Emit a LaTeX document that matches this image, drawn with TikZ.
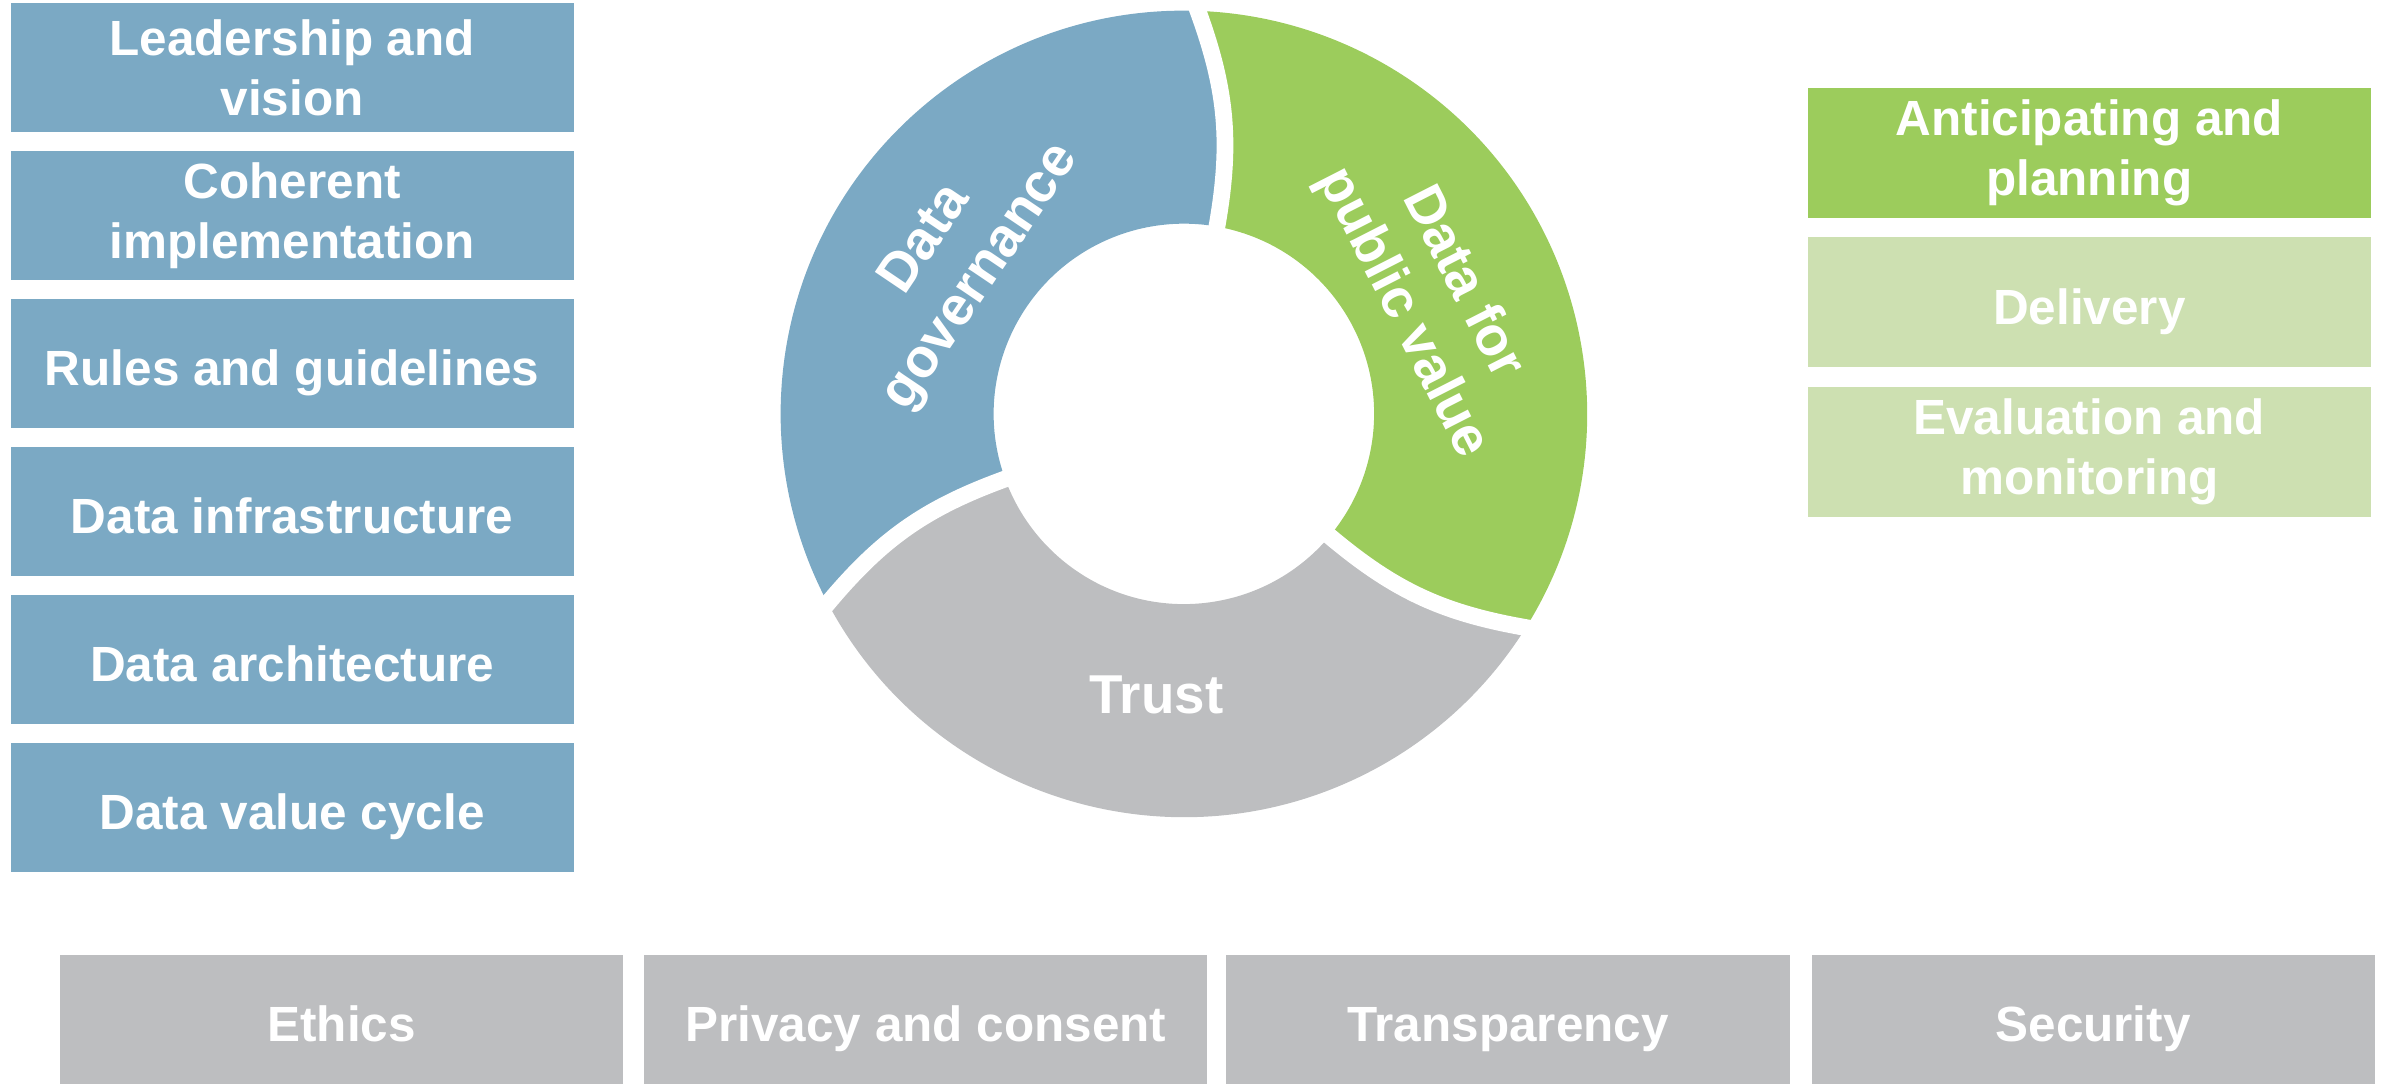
\documentclass[tikz,border=0pt]{standalone}
\usepackage{fontspec}
\setmainfont{Liberation Sans}
\usepackage{tikz}

\definecolor{govblue}{RGB}{123,169,196}
\definecolor{valgreen}{RGB}{156,204,92}
\definecolor{vallight}{RGB}{205,224,177}
\definecolor{trustgrey}{RGB}{189,190,192}

\begin{document}
\begin{tikzpicture}[x=1pt, y=1pt,
    pillar/.style={rectangle, minimum width=370pt, minimum height=85pt, inner sep=0pt,
        align=center, text=white, font=\bfseries\fontsize{32.5}{39}\selectfont},
    oneline/.style={execute at begin node={\rule{0pt}{36.3pt}},
        execute at end node={\rule[-7pt]{0pt}{0pt}}},
    govbox/.style={pillar, fill=govblue},
    valbox/.style={pillar, fill=vallight},
    trustbox/.style={pillar, oneline, fill=trustgrey},
    ringtext/.style={align=center, text=white, font=\bfseries\fontsize{36}{44}\selectfont},
    gapline/.style={white, line width=11pt, line cap=rect}]
    \useasboundingbox (0,0) rectangle (1568,712.4);

    % Data governance pillars
    \node[govbox] (LEAD) at (192,667.9) {Leadership and\\vision};
    \node[govbox] (COHERENT) at (192,570.7) {Coherent\\implementation};
    \node[govbox, oneline] (RULES) at (192,473.5) {Rules and guidelines};
    \node[govbox, oneline] (INFRA) at (192,376.3) {Data infrastructure};
    \node[govbox, oneline] (ARCH) at (192,279.1) {Data architecture};
    \node[govbox, oneline] (CYCLE) at (192,181.9) {Data value cycle};

    % Public value pillars
    \node[valbox, fill=valgreen] (ANTICIPATE) at (1373,611.9) {Anticipating and\\planning};
    \node[valbox, oneline] (DELIVERY) at (1373,513.9) {Delivery};
    \node[valbox] (EVAL) at (1373,415.4) {Evaluation and\\monitoring};

    % Trust pillars
    \node[trustbox] (ETHICS) at (224.5,42.5) {Ethics};
    \node[trustbox] (PRIVACY) at (608.5,42.5) {Privacy and consent};
    \node[trustbox] (TRANSP) at (991,42.5) {Transparency};
    \node[trustbox] (SECURITY) at (1375.5,42.5) {Security};

    % Ring
    \begin{scope}[shift={(778,440.4)}]
        \fill[govblue] (88:265) arc[start angle=88, end angle=208, radius=265]
            to[bend left=15] (200:125) arc[start angle=200, end angle=80, radius=125]
            to[bend right=15] (88:265) -- cycle;
        \fill[trustgrey] (208:265) arc[start angle=208, end angle=328, radius=265]
            to[bend left=15] (320:125) arc[start angle=320, end angle=200, radius=125]
            to[bend right=15] (208:265) -- cycle;
        \fill[valgreen] (-32:265) arc[start angle=-32, end angle=88, radius=265]
            to[bend left=15] (80:125) arc[start angle=80, end angle=-40, radius=125]
            to[bend right=15] (-32:265) -- cycle;

        % gaps between the segments
        \draw[gapline] (80:125) to[bend right=15] (88:265);
        \draw[gapline] (200:125) to[bend right=15] (208:265);
        \draw[gapline] (320:125) to[bend right=15] (328:265);

        \node[ringtext, rotate=56] (GOV) at (146:182) {Data\\governance};
        \node[ringtext, rotate=-63] (PUBVAL) at (25:180) {Data for\\public value};
        \node[ringtext] (TRUST) at (-18,-185) {Trust};
    \end{scope}
\end{tikzpicture}
\end{document}
